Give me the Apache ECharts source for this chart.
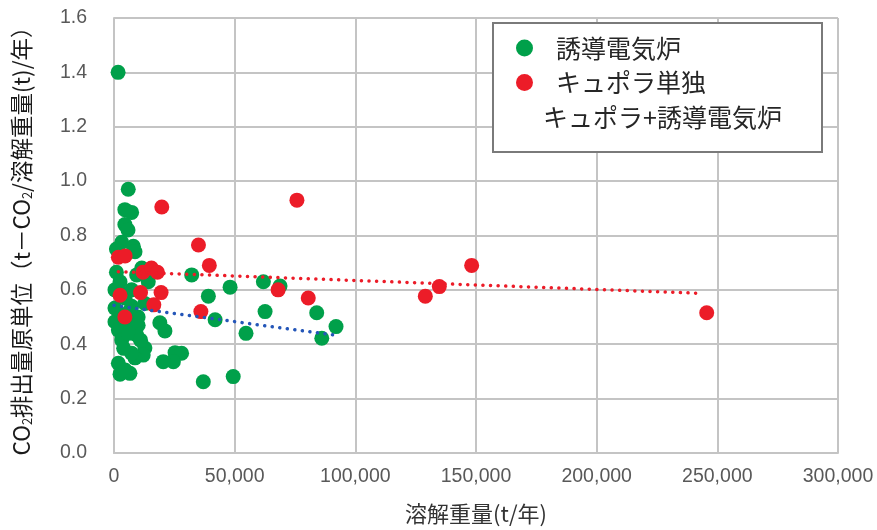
<!DOCTYPE html>
<html>
<head>
<meta charset="utf-8">
<script src="https://cdn.jsdelivr.net/npm/echarts@6/dist/echarts.min.js"></script>
<style>
  html, body { margin: 0; padding: 0; background: #ffffff; }
  #chart { width: 877px; height: 530px; }
</style>
</head>
<body>
<div id="chart"></div>
<script>
// Series names as shown in the legend
const seriesNames = ['誘導電気炉', 'キュポラ単独', 'キュポラ+誘導電気炉'];

// 誘導電気炉: [溶解重量 (t/年), CO2排出量原単位]
const inductionPoints = [
  [1700, 1.40], [5900, 0.97], [4500, 0.895], [7300, 0.885], [4500, 0.84],
  [5800, 0.82], [3200, 0.775], [8000, 0.76], [1000, 0.75], [8700, 0.74],
  [1000, 0.665], [9400, 0.655], [11500, 0.68], [14200, 0.63], [32200, 0.655],
  [48100, 0.61], [39100, 0.577], [41900, 0.49], [61900, 0.63], [68800, 0.614],
  [62600, 0.52], [54700, 0.44], [84000, 0.516], [92000, 0.465], [86100, 0.422],
  [19000, 0.479], [21100, 0.449], [25300, 0.369], [28000, 0.367], [24600, 0.336],
  [20400, 0.336], [12800, 0.386], [12100, 0.36], [8700, 0.35], [37000, 0.262],
  [49400, 0.281], [1800, 0.33], [2500, 0.29], [6600, 0.293], [4600, 0.305],
  [400, 0.60], [1800, 0.60], [7300, 0.60], [4600, 0.57], [7300, 0.54],
  [400, 0.533], [10000, 0.50], [400, 0.483], [10000, 0.47], [1800, 0.452],
  [3200, 0.416], [9400, 0.434], [7300, 0.367], [12800, 0.55], [2500, 0.63],
  [5500, 0.48], [6000, 0.44], [3000, 0.51], [6500, 0.52], [11000, 0.415],
  [4000, 0.385]
];

// キュポラ単独: [溶解重量 (t/年), CO2排出量原単位]
const cupolaPoints = [
  [1800, 0.72], [4600, 0.725], [12000, 0.665], [15500, 0.68], [18000, 0.665],
  [2500, 0.58], [11000, 0.59], [19500, 0.59], [16500, 0.545], [4500, 0.50],
  [19800, 0.905], [35000, 0.765], [39500, 0.69], [36000, 0.52], [75800, 0.93],
  [68000, 0.60], [80500, 0.57], [129000, 0.577], [134800, 0.612], [148200, 0.69],
  [245600, 0.516]
];

// Linear trend lines (end points)
const inductionTrend = [[0, 0.543], [92000, 0.433]];
const cupolaTrend = [[1800, 0.667], [244000, 0.587]];

// Axis ranges
const xMin = 0, xMax = 300000, xStep = 50000;
const yMin = 0, yMax = 1.6, yStep = 0.2;

const GREEN = '#00a04a';
const RED = '#ec1c28';
const BLUE = '#2456b8';
const GRID = '#c4c4c4';
const LABEL = '#595959';
const CJK = '"Noto Sans CJK JP", "Noto Sans", sans-serif';
const NUM = '"Liberation Sans", Arial, sans-serif';

const chart = echarts.init(document.getElementById('chart'), null, { renderer: 'canvas' });

chart.setOption({
  backgroundColor: '#ffffff',
  animation: false,
  grid: { left: 114, top: 18, right: 39, bottom: 77, containLabel: false },
  xAxis: {
    type: 'value',
    min: xMin, max: xMax, interval: xStep,
    name: '溶解重量(t/年)',
    nameLocation: 'middle',
    nameGap: 50,
    nameTextStyle: { fontFamily: CJK, fontSize: 22, color: '#333333' },
    axisLine: { show: true, lineStyle: { color: GRID, width: 2 } },
    axisTick: { show: false },
    splitLine: { show: true, lineStyle: { color: GRID, width: 2 } },
    axisLabel: {
      margin: 14,
      fontFamily: NUM, fontSize: 19.5, color: LABEL,
      formatter: v => v.toLocaleString('en-US')
    }
  },
  yAxis: {
    type: 'value',
    min: yMin, max: yMax, interval: yStep,
    name: '{n|CO}{s|2}{n|排出量原単位（t－CO}{s|2}{n|/溶解重量(t)/年）}',
    nameLocation: 'middle',
    nameRotate: 90,
    nameGap: 80,
    nameTextStyle: {
      rich: {
        n: { fontFamily: CJK, fontSize: 22.5, color: '#1a1a1a', lineHeight: 26, verticalAlign: 'middle' },
        s: { fontFamily: CJK, fontSize: 13, color: '#1a1a1a', lineHeight: 14, verticalAlign: 'bottom' }
      }
    },
    axisLine: { show: true, lineStyle: { color: GRID, width: 2 } },
    axisTick: { show: false },
    splitLine: { show: true, lineStyle: { color: GRID, width: 2 } },
    axisLabel: {
      margin: 27,
      fontFamily: NUM, fontSize: 19.5, color: LABEL,
      formatter: v => v.toFixed(1)
    }
  },
  graphic: [{
    type: 'rect',
    z: 3,
    shape: { x: 493, y: 23, width: 329, height: 129 },
    style: { fill: '#ffffff', stroke: '#7a7a7a', lineWidth: 2 }
  }],
  legend: {
    z: 5,
    orient: 'vertical',
    left: 516, top: 35,
    padding: 0,
    itemWidth: 17, itemHeight: 17, itemGap: 8.5,
    textStyle: { fontFamily: CJK, fontSize: 25, color: '#262626', lineHeight: 26 },
    data: [
      { name: seriesNames[0], icon: 'circle', textStyle: { padding: [0, 0, 0, 18] } },
      { name: seriesNames[1], icon: 'circle', textStyle: { padding: [0, 0, 0, 18] } },
      { name: seriesNames[2], icon: 'circle', itemStyle: { opacity: 0 }, textStyle: { padding: [0, 0, 0, 5] } }
    ]
  },
  series: [
    {
      name: seriesNames[0], type: 'scatter', z: 2,
      symbol: 'circle', symbolSize: 15,
      itemStyle: { color: GREEN, opacity: 1 },
      data: inductionPoints
    },
    {
      name: seriesNames[1], type: 'scatter', z: 3,
      symbol: 'circle', symbolSize: 15,
      itemStyle: { color: RED, opacity: 1 },
      data: cupolaPoints
    },
    {
      name: seriesNames[2], type: 'scatter', z: 3,
      symbol: 'circle', symbolSize: 15,
      itemStyle: { color: 'rgba(0,0,0,0)' },
      data: []
    },
    {
      type: 'line', z: 4, silent: true,
      symbol: 'none',
      lineStyle: { color: BLUE, width: 3.5, type: [0.1, 7.5], cap: 'round' },
      data: inductionTrend
    },
    {
      type: 'line', z: 4, silent: true,
      symbol: 'none',
      lineStyle: { color: RED, width: 3.5, type: [0.1, 7.5], cap: 'round' },
      data: cupolaTrend
    }
  ]
});
</script>
</body>
</html>
